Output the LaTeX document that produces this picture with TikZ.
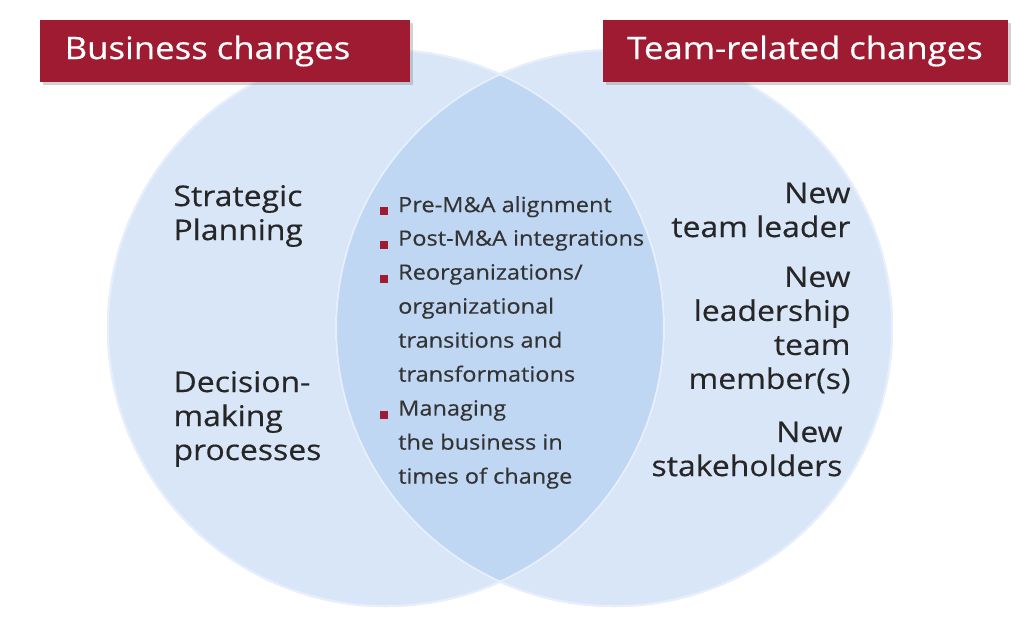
\documentclass[tikz,border=0pt]{standalone}
\usepackage{fontspec}
\setmainfont[FakeStretch=1.12,FakeBold=0.4]{Open Sans}
\usetikzlibrary{shadows}
\definecolor{circ}{HTML}{D8E6F8}
\definecolor{lens}{HTML}{C0D7F4}
\definecolor{rim}{HTML}{E6EFFB}
\definecolor{tred}{HTML}{9E1B32}
\tikzset{
 title/.style={fill=tred,text=white,minimum height=62pt,font=\fontsize{31}{36}\selectfont,drop shadow={shadow xshift=3pt,shadow yshift=-3pt,opacity=0.35}},
 side/.style={font=\fontsize{28.5}{34}\selectfont,text=black!85},
 mid/.style={font=\fontsize{21}{34}\selectfont,text=black!80,align=left,anchor=north west,inner sep=0pt},
 bul/.style={fill=tred,minimum size=8pt,inner sep=0pt}
}
\begin{document}
\begin{tikzpicture}[x=1pt,y=-1pt]
\useasboundingbox (0,0) rectangle (1020,635);
\fill[white] (0,0) rectangle (1020,635);
\fill[circ] (386,328) circle (279);
\fill[circ] (614,328) circle (279);
\begin{scope}
\clip (386,328) circle (279);
\fill[lens] (614,328) circle (279);
\end{scope}
\draw[rim,line width=2pt] (386,328) circle (278);
\draw[rim,line width=2pt] (614,328) circle (278);
\node[title,minimum width=370pt] (t1) at (225,51) {\hspace*{-35pt}Business changes};
\node[title,minimum width=405pt] (t2) at (805,51) {Team-related changes};
\node[side,align=left,anchor=west] (sp) at (170,216) {Strategic\\Planning};
\node[side,align=left,anchor=west] (dm) at (170,419) {Decision-\\making\\processes};
\node[side,align=right,anchor=east] (n1) at (854,210) {New\\team leader};
\node[side,align=right,anchor=east] (n2) at (854,330) {New\\leadership\\team\\member(s)};
\node[side,align=right,anchor=east] (n3) at (846,449) {New\\stakeholders};
\node[mid] (m1) at (398,196) {Pre-M\&A alignment};
\node[mid] (m2) at (398,230) {Post-M\&A integrations};
\node[mid] (m3) at (398,264) {Reorganizations/\\organizational\\transitions and\\transformations};
\node[mid] (m4) at (398,400) {Managing\\the business in\\times of change};
\node[bul] (b1) at (384,211) {};
\node[bul] (b2) at (384,245) {};
\node[bul] (b3) at (384,279) {};
\node[bul] (b4) at (384,415) {};
\end{tikzpicture}
\end{document}
